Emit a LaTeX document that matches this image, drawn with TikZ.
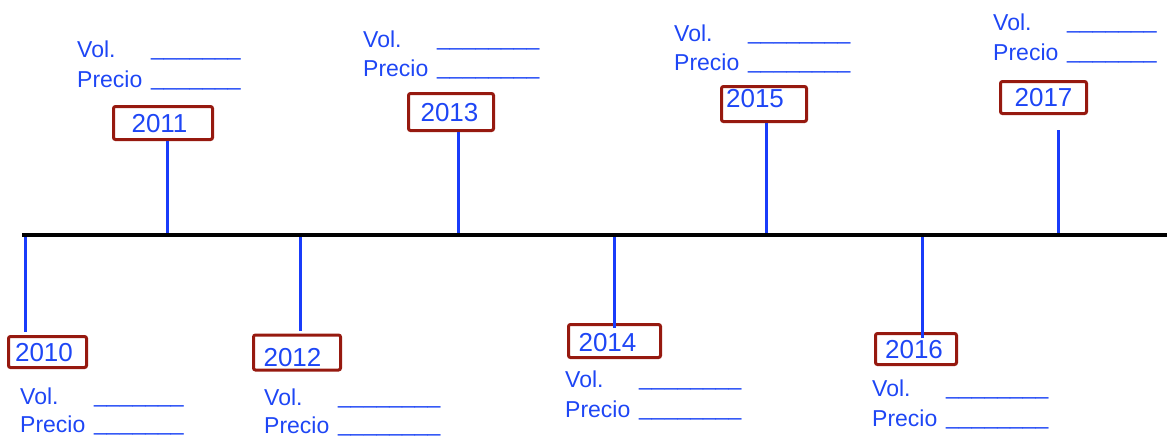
\documentclass[tikz,border=0pt]{standalone}
\usepackage{fontspec}
\setmainfont{Liberation Sans}
\definecolor{inkblue}{RGB}{30,70,245}
\definecolor{stemblue}{RGB}{25,60,250}
\definecolor{boxred}{RGB}{150,25,15}
% year label inside its box: #1 horizontal kern (twice the shift), #2 raise
\newcommand{\yeartext}[3]{\raisebox{#2}{\kern#1\relax#3}}
% a caption followed by a blank to fill in
\newcommand{\fillfield}[2]{\makebox[74pt][l]{#1}\raisebox{1.5pt}{#2}}
\newcommand{\blankseven}{\_\_\_\_\_\_\_}
\newcommand{\blankeight}{\_\_\_\_\_\_\_\_}
\begin{document}
\begin{tikzpicture}[x=1pt,y=-1pt,
  axisline/.style={line width=3.5pt, black},
  stem/.style={line width=3pt, stemblue},
  yearbox/.style={draw=boxred, line width=3pt, rounded corners=2pt,
    inner sep=0pt, text height=18.6pt, text depth=0pt,
    font=\fontsize{26}{26}\selectfont, text=inkblue},
  field/.style={anchor=base west, inner sep=0pt, text=inkblue,
    font=\fontsize{23}{23}\selectfont}]
\useasboundingbox (0,0) rectangle (1167,437);

% year boxes
\node[yearbox, minimum width=78pt, minimum height=31pt] (b2010) at (47.5,352) {\yeartext{-7pt}{0pt}{2010}};
\node[yearbox, minimum width=99pt, minimum height=33pt] (b2011) at (163,123) {\yeartext{-7pt}{0pt}{2011}};
\node[yearbox, minimum width=87pt, minimum height=35pt] (b2012) at (297,352.5) {\yeartext{-9pt}{-5pt}{2012}};
\node[yearbox, minimum width=85pt, minimum height=37pt] (b2013) at (451,112) {\yeartext{-3pt}{0pt}{2013}};
\node[yearbox, minimum width=92pt, minimum height=33pt] (b2014) at (614.5,341) {\yeartext{-14pt}{-1.5pt}{2014}};
\node[yearbox, minimum width=85pt, minimum height=35pt] (b2015) at (764,104) {\yeartext{-18pt}{5.5pt}{2015}};
\node[yearbox, minimum width=81pt, minimum height=31pt] (b2016) at (916,349) {\yeartext{-4pt}{0pt}{2016}};
\node[yearbox, minimum width=86pt, minimum height=32pt] (b2017) at (1043.5,97.5) {\yeartext{0pt}{0pt}{2017}};

% volume / price fields
\node[field] (v2010) at (20,404) {\fillfield{Vol.}{\blankseven}};
\node[field] (p2010) at (20,432) {\fillfield{Precio}{\blankseven}};
\node[field] (v2011) at (77,57) {\fillfield{Vol.}{\blankseven}};
\node[field] (p2011) at (77,87) {\fillfield{Precio}{\blankseven}};
\node[field] (v2012) at (264,405) {\fillfield{Vol.}{\blankeight}};
\node[field] (p2012) at (264,433) {\fillfield{Precio}{\blankeight}};
\node[field] (v2013) at (363,47) {\fillfield{Vol.}{\blankeight}};
\node[field] (p2013) at (363,76) {\fillfield{Precio}{\blankeight}};
\node[field] (v2014) at (565,387) {\fillfield{Vol.}{\blankeight}};
\node[field] (p2014) at (565,417) {\fillfield{Precio}{\blankeight}};
\node[field] (v2015) at (674,41) {\fillfield{Vol.}{\blankeight}};
\node[field] (p2015) at (674,70) {\fillfield{Precio}{\blankeight}};
\node[field] (v2016) at (872,396) {\fillfield{Vol.}{\blankeight}};
\node[field] (p2016) at (872,426) {\fillfield{Precio}{\blankeight}};
\node[field] (v2017) at (993,30) {\fillfield{Vol.}{\blankseven}};
\node[field] (p2017) at (993,60) {\fillfield{Precio}{\blankseven}};

% stems from the time axis to the boxes
\coordinate (s2010) at (25,235);
\coordinate (s2011) at (167,235);
\coordinate (s2012) at (300,235);
\coordinate (s2013) at (458,235);
\coordinate (s2014) at (614,235);
\coordinate (s2015) at (766,235);
\coordinate (s2016) at (922,235);
\coordinate (s2017) at (1058,235);
\draw[stem] (s2010) -- ([yshift=3pt]s2010 |- b2010.north);
\draw[stem] (s2011) -- (s2011 |- b2011.south);
\draw[stem] (s2012) -- ([yshift=3pt]s2012 |- b2012.north);
\draw[stem] (s2013) -- (s2013 |- b2013.south);
\draw[stem] (s2014) -- ([yshift=-5pt]s2014 |- b2014.north);
\draw[stem] (s2015) -- (s2015 |- b2015.south);
\draw[stem] (s2016) -- ([yshift=-6pt]s2016 |- b2016.north);
\draw[stem] (s2017) -- ([yshift=-15pt]s2017 |- b2017.south);

% time axis
\coordinate (axL) at (22,235);
\coordinate (axR) at (1167,235);
\draw[axisline] (axL) -- (axR);
\end{tikzpicture}
\end{document}
